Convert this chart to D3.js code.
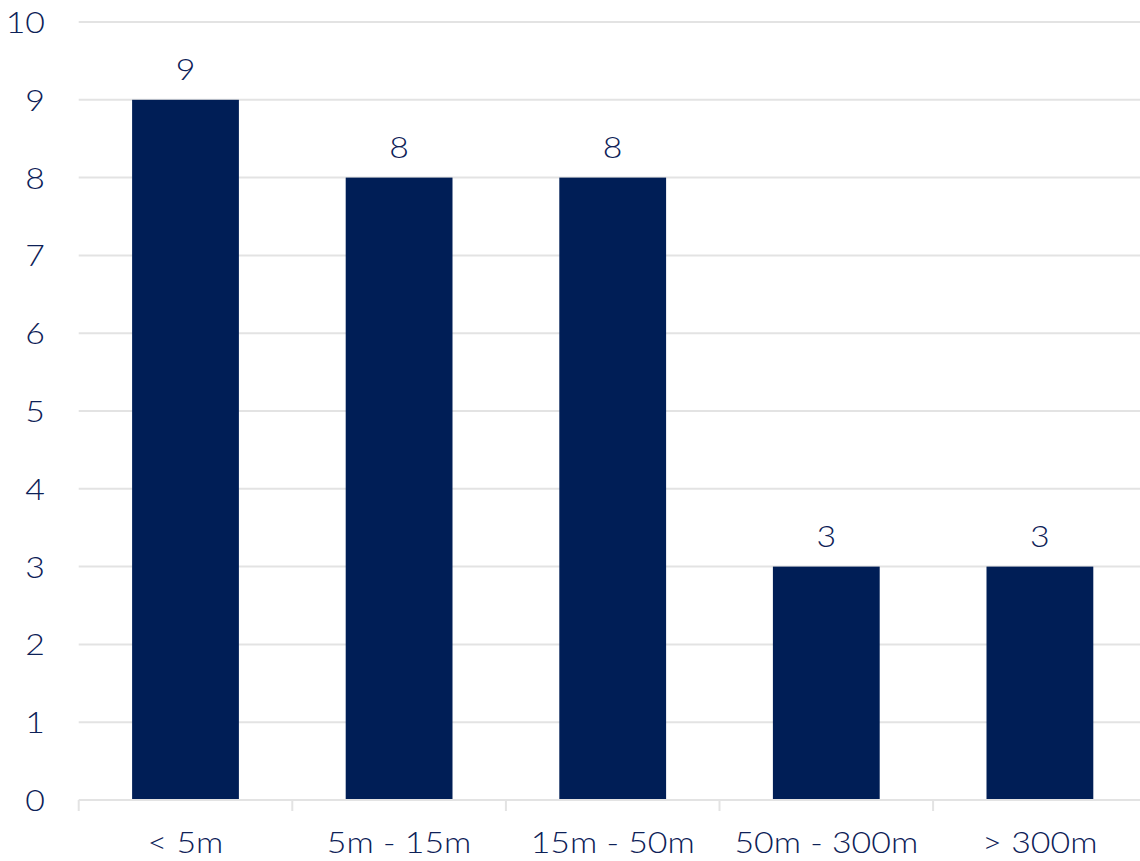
<!DOCTYPE html>
<html>
<head>
<meta charset="utf-8">
<script src="https://cdn.jsdelivr.net/npm/d3@7"></script>
<style>
  html, body { margin: 0; padding: 0; background: #fff; }
  svg text { font-family: "Lato", "Open Sans", sans-serif; font-weight: 300; fill: #0d2157; }
</style>
</head>
<body>
<svg id="chart" width="1140" height="861"></svg>
<script>
// Distance bands and counts
const categories = ["< 5m", "5m - 15m", "15m - 50m", "50m - 300m", "> 300m"];
const counts = [9, 8, 8, 3, 3];
const yTicks = [0, 1, 2, 3, 4, 5, 6, 7, 8, 9, 10];

const svg = d3.select("#chart");
const plotLeft = 78.7, plotRight = 1146.7, plotTop = 22, plotBottom = 800;
const fontSize = 30;
const stretch = 1.13;   // widen the glyphs horizontally

// Place text at (px, py) with a horizontal stretch about the anchor point
const placeText = (sel, px, py) =>
  sel.attr("transform", (d, i) => `translate(${px(d, i)},${py(d, i)}) scale(${stretch},1)`);

const x = d3.scaleBand().domain(categories).range([plotLeft, plotRight])
  .paddingInner(0.5).paddingOuter(0.25);
const y = d3.scaleLinear().domain([0, 10]).range([plotBottom, plotTop]);

// Horizontal gridlines
svg.append("g").selectAll("line").data(yTicks.filter(d => d > 0)).join("line")
  .attr("x1", plotLeft).attr("x2", 1140)
  .attr("y1", d => y(d)).attr("y2", d => y(d))
  .attr("stroke", "#e3e3e3").attr("stroke-width", 2);

// Y tick labels
svg.append("g").selectAll("text").data(yTicks).join("text")
  .call(placeText, () => 45, d => y(d) + 11)
  .attr("text-anchor", "end")
  .style("font-size", fontSize + "px")
  .text(d => d);

// Bars
svg.append("g").selectAll("rect").data(categories).join("rect")
  .attr("x", d => x(d)).attr("width", x.bandwidth())
  .attr("y", (d, i) => y(counts[i]))
  .attr("height", (d, i) => y(0) - y(counts[i]))
  .attr("fill", "#001e56");

// Value labels
svg.append("g").selectAll("text").data(categories).join("text")
  .call(placeText, d => x(d) + x.bandwidth() / 2, (d, i) => y(counts[i]) - 20)
  .attr("text-anchor", "middle")
  .style("font-size", fontSize + "px")
  .text((d, i) => counts[i]);

// X axis baseline and band separators
svg.append("line").attr("x1", plotLeft).attr("x2", 1140)
  .attr("y1", plotBottom).attr("y2", plotBottom)
  .attr("stroke", "#e3e3e3").attr("stroke-width", 2);
const edges = categories.map(d => x(d) - x.step() * x.paddingInner() / 2);
svg.append("g").selectAll("line").data(edges).join("line")
  .attr("x1", d => d).attr("x2", d => d)
  .attr("y1", plotBottom).attr("y2", plotBottom + 11)
  .attr("stroke", "#e3e3e3").attr("stroke-width", 2);

// Category labels
svg.append("g").selectAll("text").data(categories).join("text")
  .call(placeText, d => x(d) + x.bandwidth() / 2, () => 853)
  .attr("text-anchor", "middle")
  .style("font-size", fontSize + "px")
  .text(d => d);
</script>
</body>
</html>
